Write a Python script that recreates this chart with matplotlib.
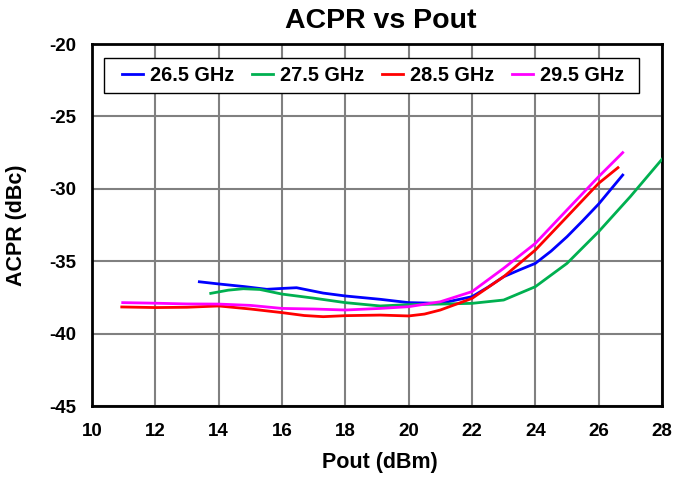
import matplotlib
matplotlib.use('Agg')
import matplotlib.pyplot as plt
from matplotlib.patches import Rectangle

# --- data ---
x_265 = [13.39, 14.0, 14.8, 15.52, 16.0, 16.46, 17.3, 18.0, 19.1, 20.0, 21.0, 22.0, 22.5, 23.0, 23.5, 24.0, 24.5, 25.0, 25.5, 26.0, 26.76]
y_265 = [-36.42, -36.57, -36.75, -36.94, -36.88, -36.83, -37.2, -37.4, -37.63, -37.86, -37.91, -37.45, -36.8, -36.07, -35.6, -35.15, -34.3, -33.31, -32.2, -31.05, -29.05]

x_275 = [13.75, 14.3, 14.78, 15.3, 16.0, 17.0, 18.0, 19.1, 20.0, 21.0, 22.0, 23.0, 24.0, 25.0, 26.0, 27.0, 28.0]
y_275 = [-37.22, -37.0, -36.9, -36.95, -37.27, -37.55, -37.86, -38.09, -38.0, -37.96, -37.91, -37.68, -36.76, -35.15, -32.96, -30.54, -27.96]

x_285 = [10.94, 12.0, 13.0, 14.0, 15.0, 16.0, 16.7, 17.3, 18.0, 19.1, 20.0, 20.5, 21.0, 22.0, 23.0, 24.0, 25.0, 26.0, 26.61]
y_285 = [-38.16, -38.2, -38.18, -38.09, -38.3, -38.55, -38.75, -38.83, -38.76, -38.72, -38.78, -38.65, -38.37, -37.57, -36.07, -34.23, -31.93, -29.62, -28.54]

x_295 = [10.97, 12.0, 13.0, 14.0, 15.0, 16.0, 17.0, 18.0, 19.1, 20.0, 21.0, 22.0, 23.0, 24.0, 25.0, 26.0, 26.76]
y_295 = [-37.86, -37.9, -37.95, -37.96, -38.05, -38.26, -38.3, -38.37, -38.26, -38.14, -37.8, -37.1, -35.49, -33.77, -31.46, -29.16, -27.5]

labels = ['26.5 GHz', '27.5 GHz', '28.5 GHz', '29.5 GHz']
colors = ['#0000FF', '#00B050', '#FF0000', '#FF00FF']

plt.rcParams['font.family'] = ['Liberation Sans', 'DejaVu Sans']
plt.rcParams['font.weight'] = 'bold'
plt.rcParams['axes.unicode_minus'] = False

fig = plt.figure(figsize=(6.75, 4.78), dpi=100)
ax = fig.add_axes([0.1363, 0.1506, 0.8444, 0.7573])

series = [(x_265, y_265), (x_275, y_275), (x_285, y_285), (x_295, y_295)]
for (xs, ys), lab, col in zip(series, labels, colors):
    ax.plot(xs, ys, color=col, lw=2, label=lab, zorder=3)

ax.set_xlim(10, 28)
ax.set_ylim(-45, -20)
ax.set_xticks(range(10, 29, 2))
ax.set_yticks(range(-45, -19, 5))
ax.grid(True, color='#808080', lw=1.5, zorder=0)
ax.set_axisbelow(True)
ax.tick_params(length=0, labelsize=13.5)
ax.tick_params(axis='x', pad=12)
ax.tick_params(axis='y', pad=11)
for lbl in ax.get_xticklabels() + ax.get_yticklabels():
    lbl.set_fontweight('bold')
for sp in ax.spines.values():
    sp.set_linewidth(2)
    sp.set_color('black')

fig.text(0.5635, 1 - 28 / 478, 'ACPR vs Pout', fontsize=20.5, fontweight='bold',
         ha='center', va='baseline')
fig.text(0.5635, 1 - 468 / 478, 'Pout (dBm)', fontsize=15.5, fontweight='bold',
         ha='center', va='baseline')
fig.text(17 / 675, 1 - 225 / 478, 'ACPR (dBc)', fontsize=15.5, fontweight='bold',
         ha='center', va='center', rotation=90)

# legend box drawn separately so its padding matches the original
ax.add_patch(Rectangle((0.02105, 0.8646), 0.9386, 0.0967, transform=ax.transAxes,
                       facecolor='white', edgecolor='black', lw=1, zorder=4))
leg = ax.legend(loc='upper left', bbox_to_anchor=(0.0404, 0.9586), borderaxespad=0,
                ncol=4, frameon=False, fontsize=14.3,
                handlelength=1.05, handletextpad=0.35, columnspacing=0.9,
                borderpad=0.35)
leg.set_zorder(5)

fig.savefig('out.png', dpi=100)
